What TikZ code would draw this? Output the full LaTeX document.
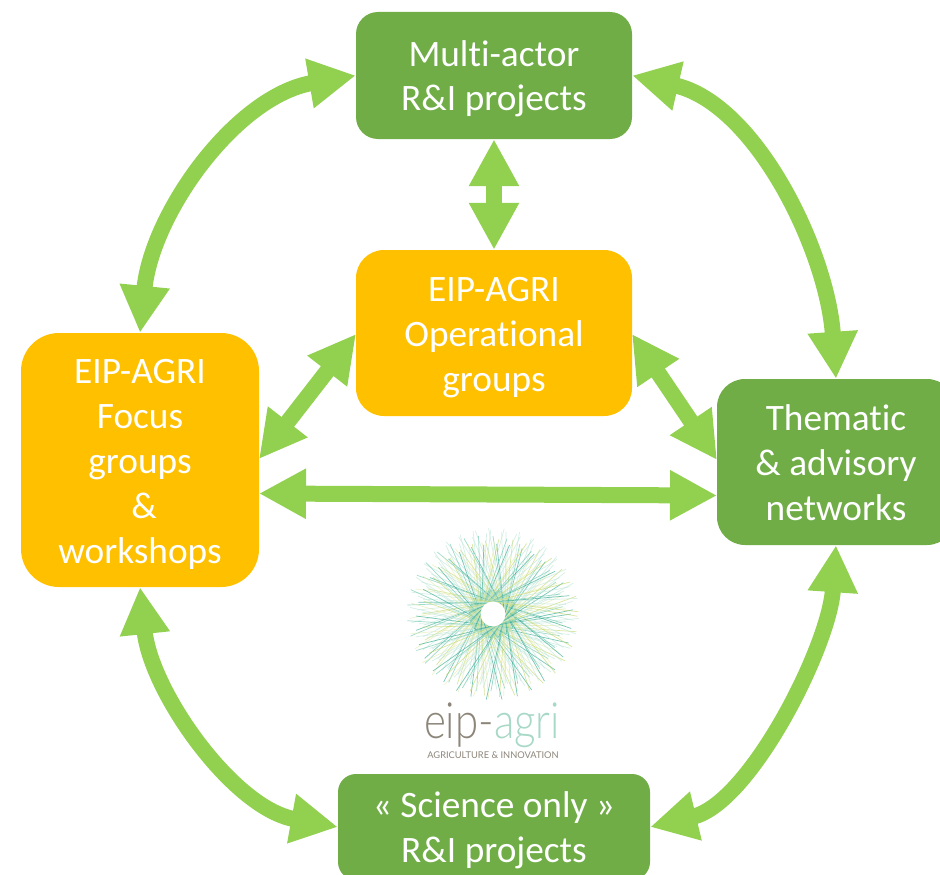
\documentclass[tikz,border=0pt]{standalone}
\usepackage{fontspec}
\setmainfont[Ligatures=NoCommon]{Carlito}
\newfontfamily\logofont{Lato Light}
\newfontfamily\logosmall{Lato}
\usetikzlibrary{arrows.meta}
\definecolor{boxgreen}{HTML}{70AD47}
\definecolor{boxorange}{HTML}{FFC000}
\definecolor{arrowgreen}{HTML}{92D050}
\definecolor{rayteal}{HTML}{2FA88E}
\definecolor{raypale}{HTML}{BFE6D8}
\definecolor{raylime}{HTML}{C4D86A}
\definecolor{raymint}{HTML}{6CC7AE}
\definecolor{raylemon}{HTML}{E2EBB0}
\definecolor{logogrey}{HTML}{8C8579}
\definecolor{logomint}{HTML}{A8D8C6}
\newcommand\lowered[1]{\raisebox{-4pt}[\height][\depth]{\begin{tabular}{@{}c@{}}#1\end{tabular}}}
\tikzset{
  box/.style={draw=none,text=white,align=center,inner sep=0pt,
    font=\fontsize{37.3}{45}\selectfont},
  greenbox/.style={box,fill=boxgreen},
  orangebox/.style={box,fill=boxorange},
  link/.style={draw=arrowgreen,line width=16pt,
    {Triangle[width=47pt,length=47pt]}-{Triangle[width=47pt,length=47pt]}},
}
\begin{document}
\begin{tikzpicture}[x=1pt,y=-1pt]
\useasboundingbox (0,0) rectangle (940,875);
\clip (0,0) rectangle (940,875);

% logo rays
\begin{scope}[shift={(493,614)}]
\foreach \i in {0,...,239}{
  \pgfmathtruncatemacro{\c}{mod(\i*37,7)}
  \pgfmathsetmacro{\rr}{78+8*sin(\i*53)}
  \pgfmathsetmacro{\ang}{\i*1.5}
  \pgfmathsetmacro{\off}{mod(\i,2)==0 ? 142 : -142}
  \ifcase\c
    \def\col{rayteal}\or\def\col{raypale}\or\def\col{raylime}\or\def\col{raymint}\or\def\col{raypale}\or\def\col{raylemon}\or\def\col{raypale}\fi
  \draw[draw=\col,line width=0.7pt,opacity=.65]
    (\ang:\rr) -- (\ang+\off:24);
}
\fill[white] (0,0) circle (12.5);
\end{scope}
\node[font=\logofont\fontsize{50}{50}\selectfont,inner sep=0pt] (logoname) at (492,725)
  {\scalebox{.84}[1]{\textcolor{logogrey}{eip-}\textcolor{logomint}{agri}}};
\node[font=\logosmall\fontsize{9.3}{9.3}\selectfont,text=logogrey,inner sep=0pt] (logotag) at (493,755)
  {AGRICULTURE \& INNOVATION};

% boxes
\node[greenbox,minimum width=276pt,minimum height=127pt,rounded corners=22pt] (ma) at (494,75.5)
  {\lowered{Multi-actor\\R\&I projects}};
\node[orangebox,minimum width=276pt,minimum height=166pt,rounded corners=28pt] (og) at (494,333)
  {\lowered{EIP-AGRI\\Operational\\groups}};
\node[orangebox,minimum width=238pt,minimum height=254pt,rounded corners=38pt] (fg) at (140,460)
  {\lowered{EIP-AGRI\\Focus\\groups\\\hspace*{8pt}\&\\workshops}};
\node[greenbox,minimum width=238pt,minimum height=166pt,rounded corners=28pt] (th) at (836,462)
  {\lowered{Thematic\\\& advisory\\networks}};
\node[greenbox,minimum width=312pt,minimum height=106pt,rounded corners=18pt] (sc) at (494,827)
  {\lowered{« Science only »\\R\&I projects}};

% free connector ends on box sides
\coordinate (thog) at (717,460);
\coordinate (thfg) at (717,495.5);
\coordinate (fgog) at (259,459);
\coordinate (fgth) at (259,493.5);
\coordinate (ogfg) at (356,334);
\coordinate (ogth) at (632,334);

% connectors
\draw[link] (ma.west) .. controls (236,96) and (152,213) .. (fg.north);
\draw[link] (ma.east) .. controls (756,104) and (827,251) .. (th.north);
\draw[link] (fg.south) .. controls (151,692) and (233,808) .. (sc.west);
\draw[link] (th.south) .. controls (829,647) and (750,803) .. (sc.east);
\draw[link] (ma.south) -- (og.north);
\draw[link] (ogfg) -- (fgog);
\draw[link] (ogth) -- (thog);
\draw[link] (fgth) -- (thfg);
\end{tikzpicture}
\end{document}
